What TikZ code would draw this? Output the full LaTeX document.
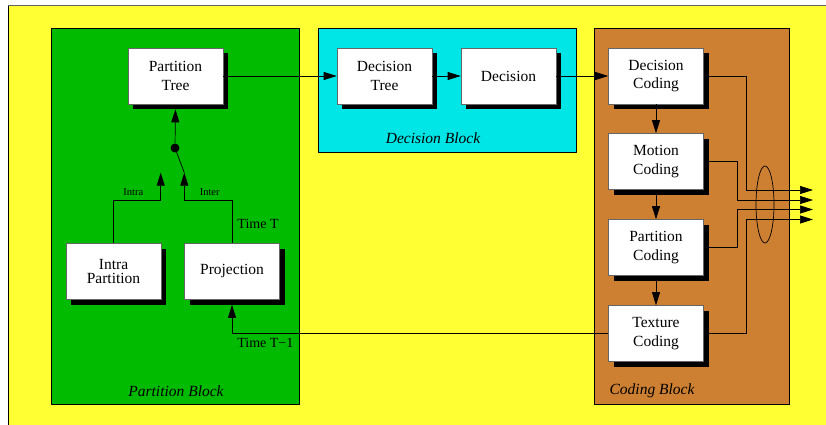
\documentclass[tikz,border=0pt]{standalone}
\usepackage{fontspec}
\setmainfont{Liberation Serif}
\usetikzlibrary{shadows,arrows.meta}

\definecolor{bgyellow}{RGB}{255,255,51}
\definecolor{partgreen}{RGB}{0,187,0}
\definecolor{deccyan}{RGB}{0,230,230}
\definecolor{codbrown}{RGB}{205,127,50}

\begin{document}
\begin{tikzpicture}[x=1pt,y=-1pt,line width=0.7pt,
    box/.style={draw=black!60, fill=white, minimum width=95pt, minimum height=56pt, inner sep=0pt, align=center,
                font=\fontsize{15.5}{18.7}\selectfont,
                drop shadow={shadow xshift=5pt, shadow yshift=-5pt, fill=black, opacity=1}},
    arr/.style={-{Triangle[length=13pt,width=8pt]}},
    blocklbl/.style={font=\fontsize{15.5}{18}\selectfont\itshape, inner sep=0pt},
    small/.style={font=\fontsize{10.5}{12}\selectfont, inner sep=0pt},
    timelbl/.style={font=\fontsize{14}{16}\selectfont, inner sep=0pt}]
    \useasboundingbox (0,0) rectangle (826,425);

    % background and blocks
    \fill[bgyellow] (8,5) rectangle (830,430);
    \draw[black] (8,5) -- (8,430);
    \draw[black!60] (8,5) -- (830,5);
    \filldraw[fill=partgreen, draw=black] (51,28) rectangle (299,404);
    \filldraw[fill=deccyan, draw=black] (318,28) rectangle (576,152);
    \filldraw[fill=codbrown, draw=black] (594,28) rectangle (789,404);

    \node[blocklbl] (PB) at (176,391) {Partition Block};
    \node[blocklbl] (DB) at (433,138) {Decision Block};
    \node[blocklbl] (CB) at (652,391) {Coding Block};

    % boxes
    \node[box] (PT) at (175.5,76) {Partition\\Tree};
    \node[box] (IP) at (113.5,271.5) {Intra\\[-4pt]Partition};
    \node[box] (PR) at (232,271.5) {Projection};
    \node[box] (DT) at (384.5,76) {Decision\\Tree};
    \node[box] (D) at (508.5,76) {Decision};
    \node[box] (DC) at (656,76) {Decision\\Coding};
    \node[box] (MC) at (656,161.5) {Motion\\Coding};
    \node[box] (PC) at (656,247.5) {Partition\\Coding};
    \node[box] (TC) at (656,333.5) {Texture\\Coding};

    % switch
    \node[circle, fill=black, inner sep=0pt, minimum size=9pt] (SW) at (175,148) {};
    \coordinate (ia) at (160.7,172.7);
    \coordinate (ib) at (184.3,172.7);
    \draw[arr] (IP.north) -- ++(0,-43) -| (ia);
    \draw[arr] (PR.north) -- ++(0,-43) -| (ib);
    \draw (SW.center) -- (ib);
    \draw[arr, shorten >=5pt] (SW) -- (PT.south);
    \node[small] (intra) at (133.3,191.7) {Intra};
    \node[small] (inter) at (209.7,191.7) {Inter};
    \node[timelbl] (tt) at (258,224.3) {Time T};
    \node[timelbl] (tt1) at (265.3,343.3) {Time T−1};

    % main chain
    \draw[arr] (PT.east) -- (DT.west);
    \draw[arr] (DT.east) -- (D.west);
    \draw[arr] (D.east) -- (DC.west);
    \draw[arr] (DC.south) -- (MC.north);
    \draw[arr] (MC.south) -- (PC.north);
    \draw[arr] (PC.south) -- (TC.north);
    \draw[arr, shorten >=5pt] (TC.west) -| (PR.south);

    % outputs
    \coordinate (o1) at (813,190);
    \coordinate (o2) at (813,200);
    \coordinate (o3) at (813,209.5);
    \coordinate (o4) at (813,219.5);
    \draw[arr] (DC.east) -- ++(42.7,0) |- (o1);
    \draw[arr] (MC.east) -- ++(33.3,0) |- (o2);
    \draw[arr] (PC.east) -- ++(33.3,0) |- (o3);
    \draw[arr] (TC.east) -- ++(42.7,0) |- (o4);
    \draw (765,204.5) ellipse [x radius=9, y radius=38.5];
\end{tikzpicture}
\end{document}
